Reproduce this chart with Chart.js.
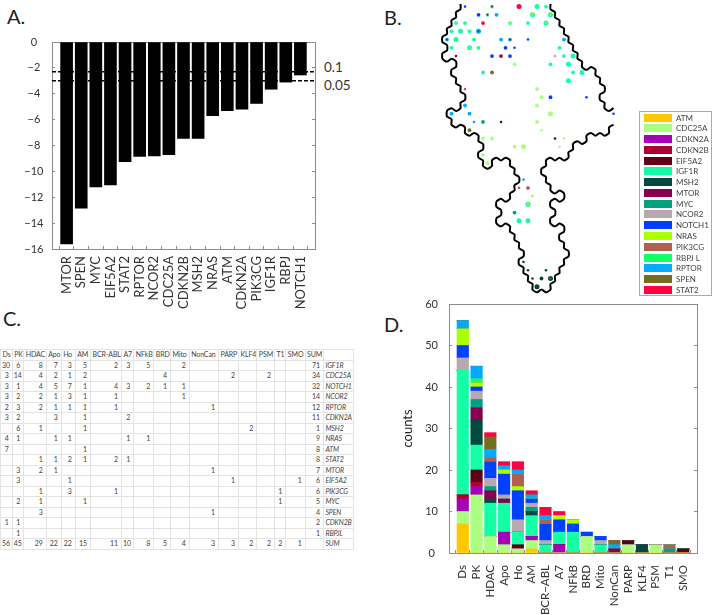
<!DOCTYPE html>
<html>
<head>
<meta charset="utf-8">
<script src="https://cdn.jsdelivr.net/npm/chart.js@4"></script>
<style>
  body { margin: 0; background: #fff; width: 713px; height: 615px; overflow: hidden; position: relative; font-family: Lato, sans-serif; color: #333; }
  canvas { position: absolute; }
  .note { position: absolute; line-height: 1; white-space: nowrap; }
  .panel { font-size: 20px; color: #222; }
  #legend { position: absolute; left: 639px; top: 111px; width: 73px; height: 185px; border: 1px solid #aaa; box-sizing: border-box; }
  #legend div { position: absolute; left: 36px; font-size: 8px; line-height: 10px; color: #444; white-space: nowrap; }
  #legend i { position: absolute; left: -32px; top: 1px; width: 28px; height: 8px; }
  #hits { position: absolute; left: 0; top: 349px; border-collapse: collapse; table-layout: fixed; width: 353px; font-size: 7px; letter-spacing: -0.1px; color: #444; }
  #hits td { height: 10.5px; padding: 0 3px 0 1px; border: 1px solid #e4e4e4; box-sizing: border-box; text-align: right; line-height: 9px; overflow: hidden; white-space: nowrap; }
  #hits td.head { text-align: left; padding: 0 0 0 1.5px; }
  #hits td.gene { text-align: left; font-style: italic; padding-left: 1.5px; padding-right: 0; }
</style>
</head>
<body>
<div class="note panel" style="left:7px;top:6px">A.</div>
<div class="note panel" style="left:384px;top:7px">B.</div>
<div class="note panel" style="left:3px;top:308px">C.</div>
<div class="note panel" style="left:384px;top:314px">D.</div>
<div class="note" style="left:324px;top:61px;font-size:13.5px">0.1</div>
<div class="note" style="left:324px;top:79px;font-size:13.5px">0.05</div>

<canvas id="panelA" width="330" height="320" style="left:0;top:0"></canvas>
<canvas id="panelB" width="215" height="299" style="left:416px;top:0"></canvas>
<canvas id="panelD" width="313" height="320" style="left:400px;top:295px"></canvas>
<div id="legend"></div>
<table id="hits"></table>

<script>
// panel A - ranked gene scores
const rankedGenes = ['MTOR','SPEN','MYC','EIF5A2','STAT2','RPTOR','NCOR2','CDC25A','CDKN2B','MSH2','NRAS','ATM','CDKN2A','PIK3CG','IGF1R','RBPJ','NOTCH1'];
const rankedScores = [-15.6,-12.85,-11.2,-11.05,-9.25,-8.85,-8.8,-8.7,-7.45,-7.45,-5.7,-5.3,-5.2,-4.75,-3.65,-3.1,-2.55];
const cutoffs = [-2.3,-3];

// panel D / C - hit counts per compound class
const classes = ['Ds','PK','HDAC','Apo','Ho','AM','BCR\u2212ABL','A7','NFkB','BRD','Mito','NonCan','PARP','KLF4','PSM','T1','SMO'];
const tableClasses = ['Ds','PK','HDAC','Apo','Ho','AM','BCR-ABL','A7','NFkB','BRD','Mito','NonCan','PARP','KLF4','PSM','T1','SMO'];
const ATM    = [7,0,0,0,0,1,0,0,0,0,0,0,0,0,0,0,0];
const CDC25A = [3,14,4,2,1,2,0,0,0,4,0,0,2,0,2,0,0];
const CDKN2A = [3,2,0,3,0,1,0,2,0,0,0,0,0,0,0,0,0];
const CDKN2B = [1,1,0,0,0,0,0,0,0,0,0,0,0,0,0,0,0];
const EIF5A2 = [0,3,0,0,1,0,0,0,0,0,0,0,1,0,0,0,1];
const IGF1R  = [30,6,8,7,3,5,2,3,5,0,2,0,0,0,0,0,0];
const MSH2   = [0,6,1,0,0,1,0,0,0,0,0,0,0,2,0,0,0];
const MTOR   = [0,3,2,1,0,0,0,0,0,0,0,1,0,0,0,0,0];
const MYC    = [0,2,1,0,0,1,0,0,0,0,0,0,0,0,0,1,0];
const NCOR2  = [3,2,2,1,3,1,1,0,0,0,1,0,0,0,0,0,0];
const NOTCH1 = [3,1,4,5,7,1,4,3,2,1,1,0,0,0,0,0,0];
const NRAS   = [4,1,0,1,1,0,0,1,1,0,0,0,0,0,0,0,0];
const PIK3CG = [0,0,1,0,3,0,1,0,0,0,0,0,0,0,0,1,0];
const RBPJL  = [0,1,0,0,0,0,0,0,0,0,0,0,0,0,0,0,0];
const RPTOR  = [2,3,2,1,1,1,1,0,0,0,0,1,0,0,0,0,0];
const SPEN   = [0,0,3,0,0,0,0,0,0,0,0,1,0,0,0,0,0];
const STAT2  = [0,0,1,1,2,1,2,1,0,0,0,0,0,0,0,0,0];
const classSums = [56,45,29,22,22,15,11,10,8,5,4,3,3,2,2,2,1];

const geneNames = ['ATM','CDC25A','CDKN2A','CDKN2B','EIF5A2','IGF1R','MSH2','MTOR','MYC','NCOR2','NOTCH1','NRAS','PIK3CG','RBPJ L','RPTOR','SPEN','STAT2'];
const geneCounts = [ATM,CDC25A,CDKN2A,CDKN2B,EIF5A2,IGF1R,MSH2,MTOR,MYC,NCOR2,NOTCH1,NRAS,PIK3CG,RBPJL,RPTOR,SPEN,STAT2];
const geneColors = ['#ffc800','#aaff80','#a800b8','#b00030','#600014','#14ffa5','#004a40','#880050','#00a080','#b8a8b0','#0040ff','#aaff00','#b06050','#14ff64','#00aaff','#786c20','#ff0040'];

const tableGenes = ['IGF1R','CDC25A','NOTCH1','NCOR2','RPTOR','CDKN2A','MSH2','NRAS','ATM','STAT2','MTOR','EIF5A2','PIK3CG','MYC','SPEN','CDKN2B','RBPJL'];
const tableRows = [IGF1R,CDC25A,NOTCH1,NCOR2,RPTOR,CDKN2A,MSH2,NRAS,ATM,STAT2,MTOR,EIF5A2,PIK3CG,MYC,SPEN,CDKN2B,RBPJL];
const tableSums = [71,34,32,14,12,11,1,9,8,8,7,6,6,5,4,2,1];
const tableWidths = [11.7,11.6,22.4,15,14,15.3,31,12.3,20,16.7,18.7,29.3,20,18.4,17.6,11.4,19.3,18.3,29.6];

// panel B - map nodes (grid column, grid row, gene, number of hits)
const nodeCol  = [4,10,16,20,22,7,9,11,19,23,2,4,8,14,18,22,1,3,5,7,0,2,6,12,14,18,26,1,5,7,13,15,25,2,10,12,14,24,26,28,15,23,27,8,10,28,30,27,4,20,21,23,31,4,20,1,5,23,37,6,8,12,20,5,21,8,10,24,26,15,17,25,8,9,17,16,18,19,18,15,16,18,17,18,22,19,21,23,20];
const nodeRow  = [0,0,0,0,0,1,1,1,1,1,2,2,2,2,2,2,3,3,3,3,4,4,4,4,4,4,4,5,5,5,5,5,5,6,6,6,6,6,6,6,7,7,7,8,8,8,8,9,10,10,11,11,11,12,12,13,13,13,13,14,14,14,14,15,15,16,16,16,16,17,17,17,18,19,21,22,22,23,24,25,26,26,31,32,32,33,33,33,34];
const nodeGene = ['NOTCH1','IGF1R','STAT2','IGF1R','IGF1R','NOTCH1','IGF1R','RPTOR','IGF1R','IGF1R','IGF1R','IGF1R','STAT2','IGF1R','IGF1R','IGF1R','IGF1R','IGF1R','IGF1R','RPTOR','RPTOR','IGF1R','IGF1R','RPTOR','RPTOR','NOTCH1','RPTOR','IGF1R','IGF1R','IGF1R','NOTCH1','NOTCH1','IGF1R','MTOR','NOTCH1','CDKN2B','NOTCH1','NCOR2','IGF1R','IGF1R','CDC25A','IGF1R','IGF1R','IGF1R','SPEN','IGF1R','IGF1R','IGF1R','PIK3CG','CDC25A','CDC25A','NOTCH1','NOTCH1','RPTOR','CDC25A','RPTOR','RPTOR','CDC25A','NOTCH1','RPTOR','MYC','EIF5A2','CDC25A','SPEN','CDC25A','CDC25A','CDC25A','EIF5A2','CDC25A','CDC25A','CDC25A','CDC25A','CDC25A','CDC25A','RPTOR','PIK3CG','PIK3CG','NRAS','IGF1R','MYC','IGF1R','IGF1R','MSH2','MSH2','MSH2','MSH2','MSH2','MSH2','MSH2'];
const nodeHits = [1,2,3,3,2,2,2,2,3,3,2,2,2,2,2,3,2,3,2,3,2,3,2,2,2,1,2,2,3,2,2,1,2,1,2,2,2,1,2,3,2,2,3,2,2,2,3,3,1,2,2,2,1,2,2,2,2,3,1,1,2,1,2,2,1,2,2,1,1,2,3,1,2,2,1,1,2,1,3,2,3,3,1,1,1,1,2,3,3];
const coreCol  = [19,23,14,22,7,1,0,18,18,23,5,9,10,14];
const coreRow  = [1,1,2,2,3,3,4,24,26,33,5,1,0,4];
const coreGene = ['NRAS','NRAS','NRAS','NRAS','NOTCH1','NCOR2','NOTCH1','NRAS','NCOR2','SPEN','NRAS','CDKN2B','CDKN2B','CDKN2B'];

// map outline, read along the hexagon edges
const outlineCol = [3,3,2,2,1,1,0,0,-1,-1,0,0,-1,-1,0,1,2,2,1,1,2,2,3,3,4,4,3,3,2,1,0,0,1,1,2,3,4,4,5,6,7,7,8,8,7,7,8,8,9,10,10,11,12,13,14,14,15,15,16,16,15,15,14,14,13,12,11,11,12,12,11,11,12,13,14,14,15,15,16,16,17,17,16,16,17,17,18,18,19,19,20,21,22,23,23,24,24,25,25,26,26,27,27,26,26,25,25,26,26,25,24,23,23,24,24,23,23,24,25,26,26,25,24,23,23,22,22,21,21,22,22,23,24,25,26,27,27,28,28,29,30,31,31,32,33,34,35,36,36,37];
const outlineRow = [-0.33,0.33,0.67,1.33,1.67,2.33,2.67,3.33,3.67,4.33,4.67,5.33,5.67,6.33,6.67,6.33,6.67,7.33,7.67,8.33,8.67,9.33,9.67,10.33,10.67,11.33,11.67,12.33,12.67,12.33,12.67,13.33,13.67,14.33,14.67,14.33,14.67,15.33,15.67,15.33,15.67,16.33,16.67,17.33,17.67,18.33,18.67,19.33,19.67,19.33,18.67,18.33,18.67,18.33,18.67,19.33,19.67,20.33,20.67,21.33,21.67,22.33,22.67,23.33,23.67,23.33,23.67,24.33,24.67,25.33,25.67,26.33,26.67,26.33,26.67,27.33,27.67,28.33,28.67,29.33,29.67,30.33,30.67,31.33,31.67,32.33,32.67,33.33,33.67,34.33,34.67,34.33,34.67,34.33,33.67,33.33,32.67,32.33,31.67,31.33,30.67,30.33,29.67,29.33,28.67,28.33,27.67,27.33,26.67,26.33,26.67,26.33,25.67,25.33,24.67,24.33,23.67,23.33,23.67,23.33,22.67,22.33,22.67,22.33,21.67,21.33,20.67,20.33,19.67,19.33,18.67,18.33,18.67,18.33,18.67,18.33,17.67,17.33,16.67,16.33,16.67,16.33,15.67,15.33,15.67,15.33,15.67,15.33,14.67,14.33];
const upperCol = [37,36,35,35,34,34,35,35,34,34,33,33,32,31,30,30,29,29,28,28,27,27,26,26,25,25,24,24,23,23];
const upperRow = [12.33,12.67,12.33,11.67,11.33,10.67,10.33,9.67,9.33,8.67,8.33,7.67,7.33,7.67,7.33,6.67,6.33,5.67,5.33,4.67,4.33,3.67,3.33,2.67,2.33,1.67,1.33,0.67,0.33,-0.33];

const axisColor = '#8c8c8c';
const tickFont = { family: 'Lato, sans-serif', size: 11 };
// negative length turns the axis ticks inward
const innerTicks = { display: true, drawOnChartArea: false, color: axisColor, tickLength: -3 };
const axisLine = { display: true, color: axisColor, width: 1 };

function barOptions(yMin, yMax, yStep, yWidth, xHeight, yPad, xPad, rotSize, padding, yTitle) {
  return {
    responsive: false,
    animation: false,
    layout: { padding },
    plugins: { legend: { display: false }, tooltip: { enabled: false } },
    scales: {
      x: {
        stacked: true,
        offset: false,
        grid: innerTicks,
        border: axisLine,
        ticks: { autoSkip: false, maxRotation: 90, minRotation: 90, padding: xPad + 3, color: '#333', font: { family: 'Lato, sans-serif', size: rotSize } },
        afterFit: s => { s.height = xHeight; s.paddingLeft = 0; s.paddingRight = 0; }
      },
      y: {
        stacked: true,
        min: yMin,
        max: yMax,
        grid: innerTicks,
        border: axisLine,
        title: yTitle,
        ticks: {
          stepSize: yStep,
          crossAlign: 'center',
          padding: yPad + 3,
          color: '#333',
          font: tickFont,
          callback: v => String(v).replace('-', '\u2212')
        },
        afterFit: s => { s.width = yWidth; s.paddingTop = 0; s.paddingBottom = 0; }
      },
      // top and right sides of the frame
      top: {
        axis: 'x',
        position: 'top',
        offset: false,
        grid: { display: true, drawOnChartArea: false, drawTicks: false, color: axisColor },
        border: axisLine,
        ticks: { display: false },
        afterFit: s => { s.height = 1; s.paddingLeft = 0; s.paddingRight = 0; }
      },
      right: {
        axis: 'y',
        position: 'right',
        min: yMin,
        max: yMax,
        grid: innerTicks,
        border: axisLine,
        ticks: { display: false, stepSize: yStep },
        afterFit: s => { s.width = 1; s.paddingTop = 0; s.paddingBottom = 0; }
      }
    }
  };
}

// blank slots either side so bars sit one step in from the frame
const pad = arr => ['', ...arr, ''];
const padVals = arr => [null, ...arr, null];

new Chart(document.getElementById('panelA'), {
  type: 'bar',
  data: {
    labels: pad(rankedGenes),
    datasets: [
      { data: padVals(rankedScores), backgroundColor: '#000', barThickness: 12, stack: 's', order: 2 },
      ...cutoffs.map(c => ({
        type: 'line',
        data: pad(rankedGenes).map(() => c),
        borderColor: '#000',
        borderWidth: 1.6,
        borderDash: [4, 2],
        pointRadius: 0,
        stack: c,
        order: 1
      }))
    ]
  },
  options: barOptions(-16, 0, 2, 52, 71, 8.5, 7, 13, { top: 41, right: 14, left: 0, bottom: 0 }, { display: false })
});

const nodeDataset = (cols, rows, genes, radius, layer) => ({
  data: cols.map((c, i) => ({ x: c, y: rows[i] })),
  showLine: false,
  pointBackgroundColor: genes.map(g => geneColors[geneNames.indexOf(g)]),
  pointBorderWidth: 0,
  pointRadius: radius,
  order: layer
});
const hitRadius = [0, 1.3, 1.9, 2.5];

new Chart(document.getElementById('panelB'), {
  type: 'scatter',
  data: {
    datasets: [
      { data: outlineCol.map((c, i) => ({ x: c, y: outlineRow[i] })), showLine: true, pointRadius: 0, borderColor: '#000', borderWidth: 2, tension: 0.25, borderJoinStyle: 'round', order: 3 },
      { data: upperCol.map((c, i) => ({ x: c, y: upperRow[i] })), showLine: true, pointRadius: 0, borderColor: '#000', borderWidth: 2, tension: 0.25, borderJoinStyle: 'round', order: 3 },
      nodeDataset(nodeCol, nodeRow, nodeGene, nodeHits.map(h => hitRadius[h]), 2),
      nodeDataset(coreCol, coreRow, coreGene, 1, 1)
    ]
  },
  options: {
    responsive: false,
    animation: false,
    layout: { padding: 0 },
    plugins: { legend: { display: false }, tooltip: { enabled: false } },
    scales: {
      x: { type: 'linear', min: -6, max: 40, display: false },
      y: { type: 'linear', min: -0.315, max: 35, reverse: true, display: false }
    }
  }
});

new Chart(document.getElementById('panelD'), {
  type: 'bar',
  data: {
    labels: pad(classes),
    datasets: geneNames.map((g, i) => ({
      label: g,
      data: padVals(geneCounts[i]),
      backgroundColor: geneColors[i],
      barThickness: 11.5
    }))
  },
  options: barOptions(0, 60, 10, 49, 62, 11, 12, 11.5, { top: 8, right: 15, left: 0, bottom: 0 },
    { display: true, text: 'counts', color: '#222', font: { family: 'Lato, sans-serif', size: 13 }, padding: 0 })
});

// legend for B and D
const legendBox = document.getElementById('legend');
geneNames.forEach((g, i) => {
  const row = document.createElement('div');
  row.style.top = (0.5 + i * 10.77) + 'px';
  row.innerHTML = `<i style="background:${geneColors[i]}"></i>${g}`;
  legendBox.appendChild(row);
});

// table C
const table = document.getElementById('hits');
const colgroup = document.createElement('colgroup');
colgroup.innerHTML = tableWidths.map(w => `<col style="width:${w}px">`).join('');
table.appendChild(colgroup);
const cell = (txt, cls) => `<td${cls ? ` class="${cls}"` : ''}>${txt}</td>`;
let html = '<tr>' + tableClasses.map(c => cell(c, 'head')).join('') + cell('SUM', 'head') + cell('', 'head') + '</tr>';
tableRows.forEach((r, i) => {
  html += '<tr>' + r.map(v => cell(v || '')).join('') + cell(tableSums[i]) + cell(tableGenes[i], 'gene') + '</tr>';
});
html += '<tr>' + classSums.map(v => cell(v)).join('') + cell('') + cell('SUM', 'gene') + '</tr>';
table.insertAdjacentHTML('beforeend', html);
</script>
</body>
</html>
